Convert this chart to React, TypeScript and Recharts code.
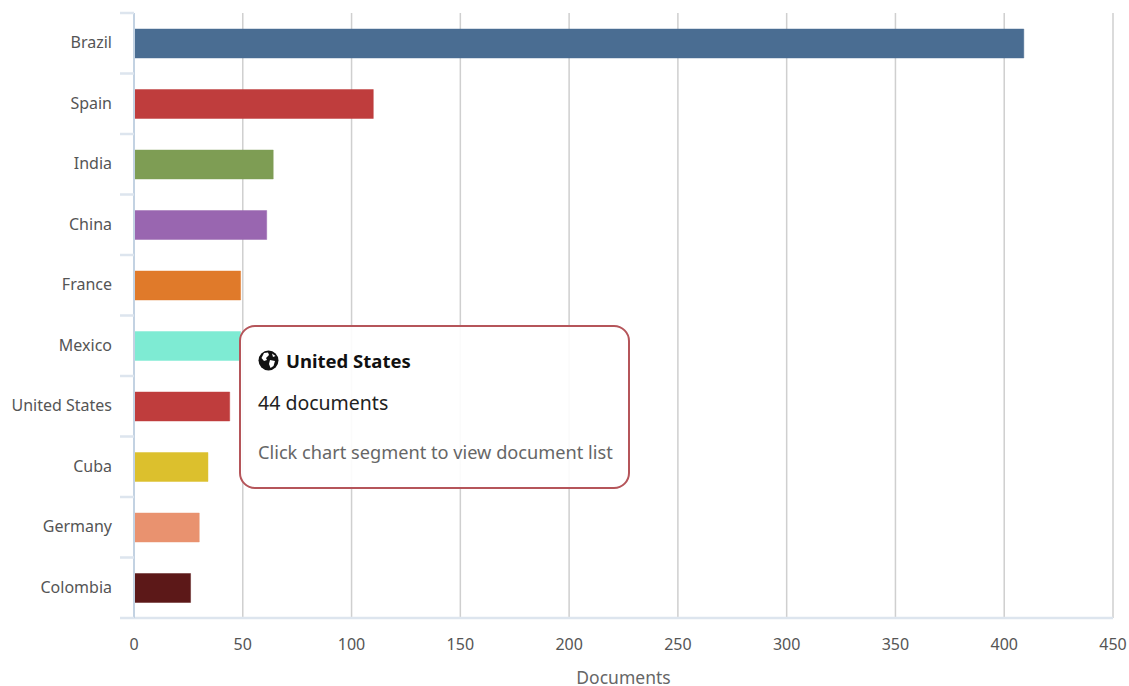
import React from "react";
import { BarChart, Bar, Cell, XAxis, YAxis, CartesianGrid, Tooltip } from "recharts";

const countries = ["Brazil", "Spain", "India", "China", "France", "Mexico", "United States", "Cuba", "Germany", "Colombia"];
const documents = [409, 110, 64, 61, 49, 49, 44, 34, 30, 26];
const barColors = ["#4a6d92", "#bf3d3d", "#7e9d54", "#9966b0", "#e07a2a", "#7eebd3", "#bf3d3d", "#dcc02d", "#e9926f", "#5c1818"];
const xTicks = [0, 50, 100, 150, 200, 250, 300, 350, 400, 450];

const rows = countries.map((country, i) => ({ country, documents: documents[i] }));

const FONT = "'Noto Sans', sans-serif";
const TICK_COLOR = "#dde5ee";
const BAND = 60.5;

// category label plus the tick marks that sit between the bands
function CountryTick({ x, y, payload, index }: any) {
  return (
    <g>
      <line x1={120} x2={134} y1={y - BAND / 2} y2={y - BAND / 2} stroke={TICK_COLOR} strokeWidth={2.5} />
      {index === countries.length - 1 && (
        <line x1={120} x2={134} y1={y + BAND / 2} y2={y + BAND / 2} stroke={TICK_COLOR} strokeWidth={2.5} />
      )}
      <text x={112} y={y + 5} textAnchor="end" fontFamily={FONT} fontSize={16} fill="#555">
        {payload.value}
      </text>
    </g>
  );
}

function GlobeIcon() {
  return (
    <svg width={21} height={21} viewBox="0 0 21 21" style={{ position: "absolute", left: 17, top: 23 }}>
      <circle cx={10.5} cy={10.5} r={10} fill="#111" />
      <path d="M6 3 L10 2.5 L11 5 L8 8 L9 10 L6 11 L3.5 8 Z" fill="#fff" />
      <path d="M12 10 L17 11 L15.5 16 L12.5 18 L11 14 Z" fill="#fff" />
      <path d="M14 3.5 L17.5 6 L15 7 Z" fill="#fff" />
    </svg>
  );
}

function CountryTooltip({ active, payload }: any) {
  if (!active || !payload?.length) return null;
  const row = payload[0].payload;
  return (
    <div
      style={{
        position: "relative",
        boxSizing: "border-box",
        width: 391,
        height: 164,
        border: "2px solid #b5555a",
        borderRadius: 16,
        background: "rgba(255,255,255,0.9)",
        fontFamily: FONT,
      }}
    >
      <GlobeIcon />
      <div style={{ position: "absolute", left: 45, top: 21, fontSize: 18.5, fontWeight: 700, color: "#111", whiteSpace: "nowrap" }}>
        {row.country}
      </div>
      <div style={{ position: "absolute", left: 17, top: 62, fontSize: 19.5, color: "#222", whiteSpace: "nowrap" }}>
        {row.documents} documents
      </div>
      <div style={{ position: "absolute", left: 17, top: 113, fontSize: 18.2, color: "#666", whiteSpace: "nowrap" }}>
        Click chart segment to view document list
      </div>
    </div>
  );
}

export default function App() {
  return (
    <div style={{ position: "absolute", left: 0, top: 0 }}>
      <BarChart
        width={1129}
        height={686}
        data={rows}
        layout="vertical"
        margin={{ top: 13, right: 16, left: 0, bottom: 0 }}
      >
        <CartesianGrid horizontal={false} stroke="#cfcfcf" strokeWidth={1.5} />
        <XAxis
          type="number"
          domain={[0, 450]}
          ticks={xTicks}
          height={68}
          interval={0}
          tickLine={false}
          axisLine={{ stroke: TICK_COLOR, strokeWidth: 2.5 }}
          tickMargin={15}
          tick={{ fontFamily: FONT, fontSize: 16, fill: "#555" }}
          label={{ value: "Documents", position: "insideBottom", offset: 2, fontFamily: FONT, fontSize: 17.5, fill: "#666" }}
        />
        <YAxis
          type="category"
          dataKey="country"
          width={134}
          interval={0}
          tickLine={false}
          axisLine={{ stroke: "#c3d2e2", strokeWidth: 2 }}
          tick={<CountryTick />}
        />
        <Tooltip
          active
          defaultIndex={6}
          cursor={false}
          position={{ x: 239, y: 325 }}
          isAnimationActive={false}
          content={<CountryTooltip />}
        />
        <Bar dataKey="documents" barSize={29} isAnimationActive={false} activeBar={false}>
          {rows.map((row, i) => (
            <Cell key={row.country} fill={barColors[i]} stroke={barColors[i]} strokeOpacity={0.45} />
          ))}
        </Bar>
      </BarChart>
    </div>
  );
}
